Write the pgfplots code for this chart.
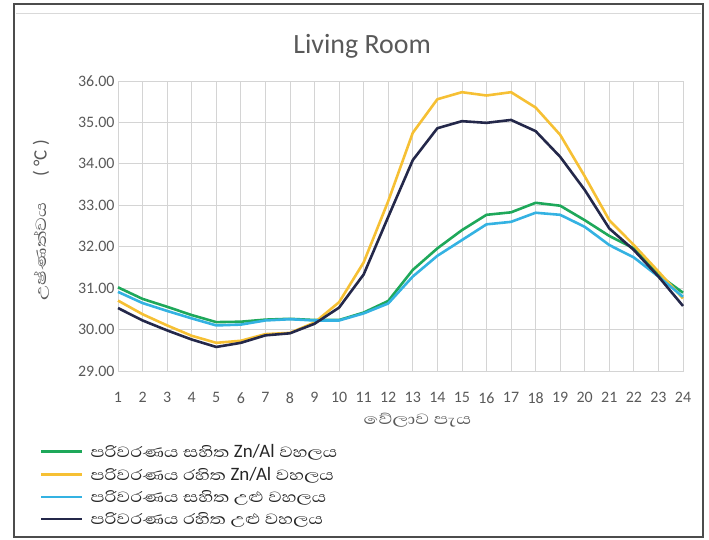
\documentclass[border=0pt]{standalone}
\usepackage{pgfplots}
\pgfplotsset{compat=1.18}
\usepackage{fontspec}
\setmainfont{Carlito}
\newfontfamily\lat{Carlito}
\newfontfamily\sinhala[Script=Sinhala, FakeStretch=1.26]{Abhaya Libre}
\newfontfamily\sinhalawide[Script=Sinhala, FakeStretch=1.3]{Abhaya Libre}
\definecolor{cgreen}{RGB}{30,168,90}
\definecolor{cyellow}{RGB}{246,192,52}
\definecolor{ccyan}{RGB}{52,178,226}
\definecolor{cdark}{RGB}{36,40,74}
\definecolor{ctext}{RGB}{89,89,89}
\pgfplotstableread{
x g y c d
1 31.02 30.70 30.91 30.52
2 30.74 30.37 30.64 30.22
3 30.55 30.10 30.45 29.98
4 30.35 29.85 30.27 29.76
5 30.18 29.68 30.10 29.58
6 30.19 29.73 30.12 29.68
7 30.24 29.89 30.22 29.86
8 30.26 29.92 30.25 29.91
9 30.23 30.17 30.22 30.14
10 30.23 30.66 30.22 30.53
11 30.41 31.62 30.39 31.33
12 30.69 33.10 30.63 32.72
13 31.44 34.75 31.28 34.09
14 31.96 35.56 31.78 34.86
15 32.40 35.73 32.16 35.03
16 32.77 35.65 32.54 34.99
17 32.83 35.73 32.60 35.06
18 33.06 35.36 32.82 34.79
19 32.99 34.70 32.77 34.17
20 32.64 33.70 32.48 33.37
21 32.26 32.64 32.04 32.44
22 31.96 32.04 31.74 31.92
23 31.32 31.40 31.28 31.28
24 30.89 30.75 30.79 30.57
}\data
\begin{document}
\begin{tikzpicture}
\useasboundingbox (0,0) rectangle (709bp,540bp);
\draw[line width=1.5bp, black!70] (14bp,3bp) rectangle (703bp,536bp);
\draw[line width=1bp, black!15] (16bp,526bp) -- (701bp,526bp);
\begin{axis}[
  at={(118bp,169bp)}, anchor=south west,
  scale only axis, width=565bp, height=290bp,
  xmin=1, xmax=24, ymin=29, ymax=36,
  xtick={1,...,24}, ytick={29,...,36},
  grid=major, major grid style={draw=black!17, line width=0.8bp},
  axis line style={draw=black!17, line width=0.8bp},
  tick style={draw=none},
  /pgf/number format/assume math mode=true,
  yticklabel style={/pgf/number format/.cd, fixed, zerofill, precision=2},
  ticklabel style={font=\fontsize{16}{18}\selectfont, text=ctext},
  xticklabel style={yshift=-18bp},
  title={Living Room},
  title style={at={(axis description cs:0.432,1.10)}, anchor=center, font=\fontsize{28}{32}\selectfont, text=ctext},
  xlabel={\sinhalawide වේලාව පැය},
  xlabel style={at={(axis description cs:0.53,-0.17)}, anchor=center, font=\fontsize{19}{21}\selectfont, text=ctext},
  ylabel={{\sinhalawide උෂ්ණත්වය}\hspace{26bp}{\lat( °C )}},
  ylabel style={at={(axis description cs:-0.136,0.52)}, anchor=center, font=\fontsize{19}{21}\selectfont, text=ctext},
  legend style={at={(axis description cs:-0.1434,-0.238)}, anchor=north west, draw=none, fill=none,
    font=\sinhala\fontsize{19}{21}\selectfont, text=black!85, row sep=4.5bp},
  legend cell align=left,
  legend image code/.code={\draw[#1, line width=2.5bp] (0bp,0bp) -- (41bp,0bp); \path (46bp,0bp);},
  every axis plot/.append style={line width=2.6bp, line join=round},
  clip=false,
]
\addplot[cgreen] table[x=x,y=g]{\data};
\addplot[cyellow] table[x=x,y=y]{\data};
\addplot[ccyan] table[x=x,y=c]{\data};
\addplot[cdark] table[x=x,y=d]{\data};
\legend{පරිවරණය සහිත {\lat Zn/Al} වහලය, පරිවරණය රහිත {\lat Zn/Al} වහලය, පරිවරණය සහිත උළු වහලය, පරිවරණය රහිත උළු වහලය}
\end{axis}
\end{tikzpicture}
\end{document}
